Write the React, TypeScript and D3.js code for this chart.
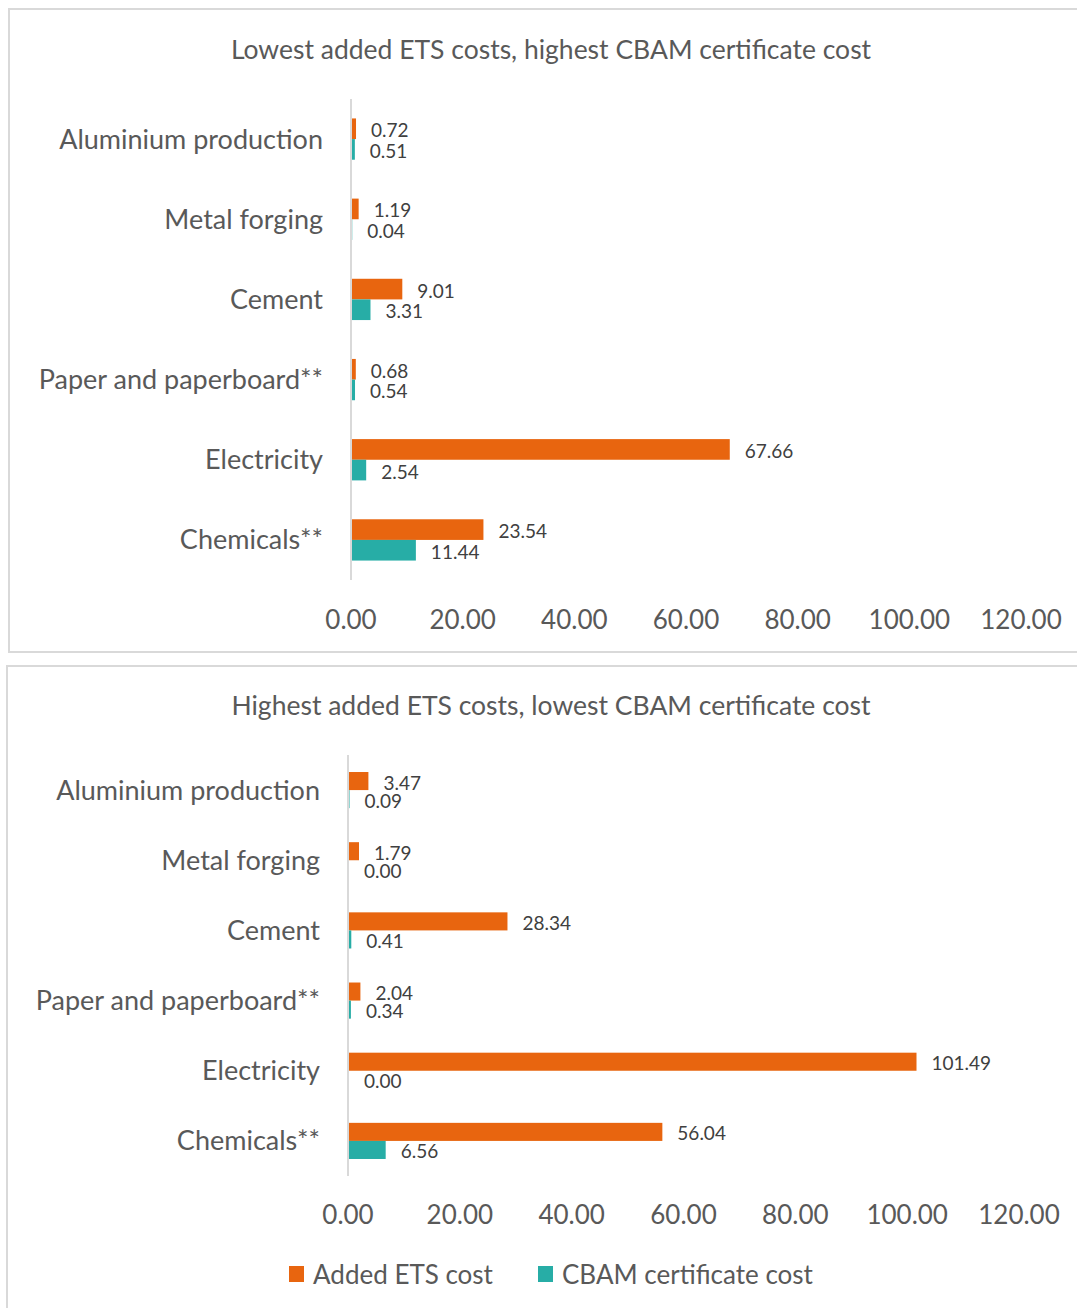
import React from "react";
import * as d3 from "d3";

// Sectors shown on both panels, top to bottom
const sectors = [
  "Aluminium production",
  "Metal forging",
  "Cement",
  "Paper and paperboard**",
  "Electricity",
  "Chemicals**",
];

// Scenario 1: lowest added ETS costs, highest CBAM certificate cost
const lowEtsAdded = [0.72, 1.19, 9.01, 0.68, 67.66, 23.54];
const lowEtsCbam = [0.51, 0.04, 3.31, 0.54, 2.54, 11.44];

// Scenario 2: highest added ETS costs, lowest CBAM certificate cost
const highEtsAdded = [3.47, 1.79, 28.34, 2.04, 101.49, 56.04];
const highEtsCbam = [0.09, 0.0, 0.41, 0.34, 0.0, 6.56];

const xTicks = [0, 20, 40, 60, 80, 100, 120];
const seriesNames = ["Added ETS cost", "CBAM certificate cost"];

const ORANGE = "#E8650F";
const TEAL = "#27ADA6";
const FONT = "Lato, 'Open Sans', sans-serif";
const LABEL = "#595959";
const VALUE = "#404040";

type PanelProps = {
  title: string;
  added: number[];
  cbam: number[];
  frame: { x: number; y: number; w: number; h: number };
  plot: { x0: number; x1: number; y0: number; y1: number };
  titleY: number;
  tickY: number;
};

function Panel({ title, added, cbam, frame, plot, titleY, tickY }: PanelProps) {
  const x = d3.scaleLinear().domain([0, 120]).range([plot.x0, plot.x1]);
  const y = d3
    .scaleBand<string>()
    .domain(sectors)
    .range([plot.y0, plot.y1])
    .paddingInner(0.485)
    .paddingOuter(0.2425);
  const sub = d3
    .scaleBand<string>()
    .domain(seriesNames)
    .range([0, y.bandwidth()]);
  const series = [added, cbam];
  const colors = [ORANGE, TEAL];

  return (
    <g>
      <rect
        x={frame.x}
        y={frame.y}
        width={frame.w}
        height={frame.h}
        fill="#fff"
        stroke="#d9d9d9"
        strokeWidth={2}
      />
      <text
        x={551}
        y={titleY}
        textAnchor="middle"
        dominantBaseline="central"
        fontFamily={FONT}
        fontSize={26.5}
        fill={LABEL}
      >
        {title}
      </text>
      {sectors.map((s) => (
        <text
          key={s}
          x={plot.x0 - 28}
          y={(y(s) as number) + y.bandwidth() / 2 - 1}
          textAnchor="end"
          dominantBaseline="central"
          fontFamily={FONT}
          fontSize={27}
          fill={LABEL}
        >
          {s}
        </text>
      ))}
      {series.map((vals, si) =>
        vals.map((v, i) => {
          const by = (y(sectors[i]) as number) + (sub(seriesNames[si]) as number);
          const bh = sub.bandwidth();
          return (
            <g key={`${si}-${i}`}>
              <rect
                x={x(0) + 1}
                y={by}
                width={Math.max(0, x(v) - x(0))}
                height={bh}
                fill={colors[si]}
              />
              <text
                x={x(v) + 16}
                y={by + bh / 2 + 1}
                dominantBaseline="central"
                fontFamily={FONT}
                fontSize={19}
                fill={VALUE}
              >
                {d3.format(".2f")(v)}
              </text>
            </g>
          );
        })
      )}
      <line
        x1={x(0)}
        x2={x(0)}
        y1={plot.y0}
        y2={plot.y1}
        stroke="#d9d9d9"
        strokeWidth={2}
      />
      {xTicks.map((t) => (
        <text
          key={t}
          x={x(t)}
          y={tickY}
          textAnchor="middle"
          dominantBaseline="central"
          fontFamily={FONT}
          fontSize={26}
          fill={LABEL}
        >
          {d3.format(".2f")(t)}
        </text>
      ))}
    </g>
  );
}

export default function App() {
  return (
    <div style={{ position: "absolute", left: 0, top: 0 }}>
      <svg width={1077} height={1308} style={{ display: "block" }}>
        <rect width={1077} height={1308} fill="#fff" />
        <Panel
          title="Lowest added ETS costs, highest CBAM certificate cost"
          added={lowEtsAdded}
          cbam={lowEtsCbam}
          frame={{ x: 9, y: 9, w: 1090, h: 643 }}
          plot={{ x0: 351, x1: 1021, y0: 99, y1: 580 }}
          titleY={49}
          tickY={619}
        />
        <Panel
          title="Highest added ETS costs, lowest CBAM certificate cost"
          added={highEtsAdded}
          cbam={highEtsCbam}
          frame={{ x: 7, y: 666, w: 1090, h: 660 }}
          plot={{ x0: 348, x1: 1019, y0: 755, y1: 1176 }}
          titleY={705}
          tickY={1214}
        />
        {seriesNames.map((n, i) => {
          const lx = [289, 538][i];
          return (
            <g key={n}>
              <rect x={lx} y={1266} width={15} height={16} fill={[ORANGE, TEAL][i]} />
              <text
                x={lx + 24}
                y={1274}
                dominantBaseline="central"
                fontFamily={FONT}
                fontSize={26}
                fill={LABEL}
              >
                {n}
              </text>
            </g>
          );
        })}
      </svg>
    </div>
  );
}
